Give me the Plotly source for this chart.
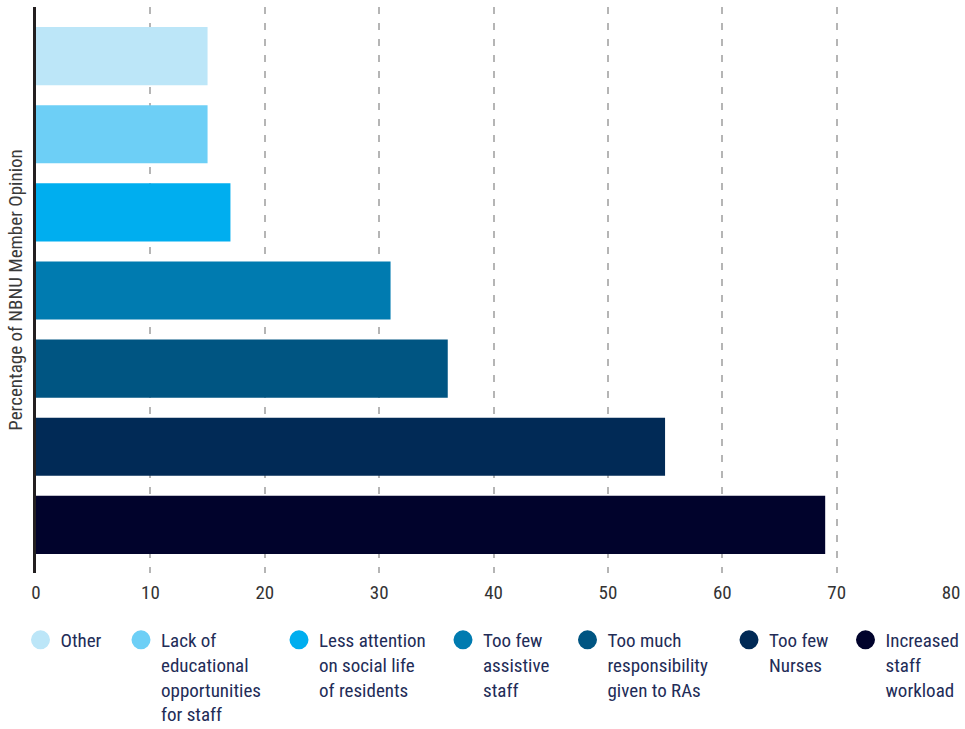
import plotly.graph_objects as go

categories = ["Other", "Lack of educational opportunities for staff",
              "Less attention on social life of residents", "Too few assistive staff",
              "Too much responsibility given to RAs", "Too few Nurses", "Increased staff workload"]
legend_labels = ["Other", "Lack of<br>educational<br>opportunities<br>for staff",
                 "Less attention<br>on social life<br>of residents", "Too few<br>assistive<br>staff",
                 "Too much<br>responsibility<br>given to RAs", "Too few<br>Nurses",
                 "Increased<br>staff<br>workload"]
values = [15, 15, 17, 31, 36, 55, 69]
colors = ["#bce6f8", "#6dcff6", "#00aeef", "#007bb0", "#005582", "#012a56", "#01032c"]
x_ticks = [0, 10, 20, 30, 40, 50, 60, 70, 80]

FONT = "Roboto Condensed, DejaVu Sans Condensed, Liberation Sans Narrow, Arial Narrow, sans-serif"
TEXT = "#222c57"

fig = go.Figure()
n = len(categories)
positions = list(range(n - 1, -1, -1))  # Other at top
legend_x_px = [40.5, 141, 299, 463, 587.5, 749, 865.5]

L, R, T, B = 36, 14, 7, 156
W, H = 965, 729

for i in range(n):
    fig.add_trace(go.Bar(x=[values[i]], y=[positions[i]], orientation="h",
                         marker=dict(color=colors[i], line=dict(width=0)),
                         width=0.744, showlegend=False, name=categories[i],
                         hovertemplate=categories[i] + ": %{x}<extra></extra>"))
for i in range(n):
    lg = "legend" if i == 0 else f"legend{i+1}"
    fig.add_trace(go.Scatter(x=[None], y=[None], mode="markers", name=legend_labels[i],
                             marker=dict(color=colors[i], size=16, line=dict(color=colors[i], width=3)),
                             showlegend=True, legend=lg))

layout_legends = {}
for i in range(n):
    key = "legend" if i == 0 else f"legend{i+1}"
    layout_legends[key] = dict(
        xref="container", yref="container",
        x=(legend_x_px[i] - 20) / W, xanchor="left",
        y=1 - 621 / H, yanchor="top", orientation="h", valign="top",
        bgcolor="rgba(0,0,0,0)", borderwidth=0,
        font=dict(family=FONT, size=19, color=TEXT),
        tracegroupgap=0, itemclick=False, itemdoubleclick=False,
    )

fig.update_layout(
    width=W, height=H,
    margin=dict(l=L, r=R, t=T, b=B, autoexpand=False),
    plot_bgcolor="white", paper_bgcolor="white",
    font=dict(family=FONT, size=19, color="#333333"),
    xaxis=dict(range=[0, 80], tickvals=x_ticks, ticktext=[str(v) for v in x_ticks],
               showgrid=True, gridcolor="#b5b5b5", gridwidth=1.5, griddash="7px,9px",
               zeroline=False, showline=False, ticks="", ticklabelstandoff=6, automargin=False,
               tickfont=dict(family=FONT, size=19, color="#333333"), fixedrange=True),
    yaxis=dict(range=[-0.615, 6.628], showticklabels=False, showgrid=False, zeroline=False,
               showline=True, linecolor="#231f20", linewidth=3, ticks="", automargin=False,
               title=dict(text="Percentage of NBNU Member Opinion", standoff=6,
                          font=dict(family=FONT, size=19, color="#3a3a3a")), fixedrange=True),
    bargap=0.256,
    **layout_legends,
)

fig.write_html("out.html", config={"displayModeBar": False},
               post_script="document.body.style.margin='0';document.body.style.overflow='hidden';")
